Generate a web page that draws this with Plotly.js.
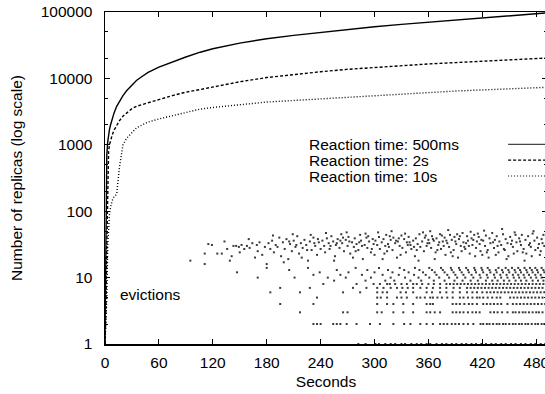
<!DOCTYPE html>
<html>
<head>
<meta charset="utf-8">
<script src="https://cdn.plot.ly/plotly-3.0.1.min.js"></script>
<style>
html,body{margin:0;padding:0;background:#fff;overflow:hidden;}
#chart{width:560px;height:394px;}
</style>
</head>
<body>
<div id="chart"></div>
<script>
// ---- data ----
const seriesNames = ["Reaction time: 500ms", "Reaction time: 2s", "Reaction time: 10s"];
const lineT = [0, 1, 2, 3, 4, 5, 6, 8, 10, 13, 16, 20, 24, 30, 35, 40, 48, 60, 75, 90, 106, 120, 150, 180, 210, 240, 270, 300, 330, 360, 390, 420, 450, 480, 492];
const react500ms = [1, 20, 700, 1100, 1450, 1700, 1950, 2500, 3000, 3800, 4500, 5500, 6500, 8000, 9300, 10400, 12300, 14800, 17700, 21000, 24800, 28000, 34000, 39500, 44500, 49500, 55000, 60000, 65000, 70000, 75500, 81000, 87000, 94000, 97000];
const react2s = [1, 3, 30, 400, 800, 1000, 1150, 1400, 1650, 2000, 2300, 2700, 3000, 3500, 3800, 4000, 4350, 4800, 5500, 6200, 6800, 7400, 8900, 10300, 11500, 12600, 13700, 14700, 15600, 16500, 17300, 18200, 19000, 19900, 20300];
const react10s = [1, 2, 5, 30, 70, 90, 110, 145, 165, 180, 450, 1000, 1250, 1550, 1800, 1950, 2200, 2450, 2750, 3100, 3450, 3650, 4050, 4400, 4650, 4900, 5200, 5500, 5850, 6200, 6450, 6700, 6950, 7250, 7350];

// evictions: times for integer counts 1..14
const evict1 = [282, 290, 301, 305, 312, 318, 323, 330, 334, 341, 347, 352, 358, 362, 369, 375, 380, 386, 391, 397, 402, 408, 413, 419, 424, 430, 435, 441, 446, 452, 457, 463, 468, 474, 479, 485, 490];
const evict2 = [232, 236, 240, 254, 258, 262, 269, 280, 295, 306, 321, 333, 340, 351, 358, 365, 373, 377, 381, 386, 390, 394, 399, 404, 410, 418, 421, 425, 428, 432, 436, 439, 443, 446, 450, 454, 457, 461, 464, 468, 471, 475, 479, 482, 486, 489];
const evict3 = [217, 265, 270, 303, 308, 321, 332, 343, 358, 362, 367, 373, 387, 391, 395, 399, 404, 409, 413, 417, 429, 433, 437, 442, 448, 454, 457, 461, 465, 468, 472, 476, 480, 483, 487, 491];
const evict4 = [195, 232, 303, 314, 321, 332, 343, 358, 362, 365, 387, 391, 395, 400, 405, 409, 414, 421, 425, 429, 433, 437, 441, 448, 454, 458, 462, 466, 470, 474, 478, 482, 486, 490];
const evict5 = [236, 303, 307, 314, 325, 330, 336, 347, 351, 356, 362, 365, 370, 375, 381, 387, 395, 399, 404, 409, 414, 417, 421, 426, 431, 436, 440, 451, 455, 459, 463, 467, 471, 475, 479, 483, 487, 491];
const evict6 = [184, 217, 265, 284, 303, 309, 314, 329, 335, 343, 358, 364, 373, 380, 387, 395, 403, 409, 414, 420, 425, 429, 433, 437, 441, 445, 449, 453, 457, 461, 465, 469, 473, 477, 481, 485, 489];
const evict7 = [195, 228, 276, 291, 303, 310, 318, 325, 331, 337, 343, 351, 358, 365, 373, 380, 388, 395, 403, 407, 411, 415, 419, 423, 427, 431, 435, 439, 443, 447, 451, 455, 459, 463, 467, 471, 475, 479, 483, 487, 491];
const evict8 = [243, 280, 299, 306, 314, 317, 323, 330, 336, 343, 347, 353, 360, 366, 373, 380, 384, 388, 392, 396, 400, 404, 408, 412, 416, 420, 424, 428, 432, 436, 440, 444, 448, 452, 456, 460, 464, 468, 472, 476, 480, 484, 488];
const evict9 = [255, 290, 312, 322, 340, 352, 366, 378, 389, 398, 407, 415, 424, 431, 437, 444, 450, 457, 463, 469, 476, 482, 488];
const evict10 = [170, 211, 248, 268, 296, 318, 334, 349, 361, 372, 383, 392, 401, 410, 418, 426, 434, 441, 448, 455, 461, 467, 474, 480, 486];
const evict11 = [232, 262, 286, 309, 327, 344, 357, 369, 381, 390, 399, 408, 417, 425, 433, 440, 447, 454, 460, 466, 472, 479, 485, 491];
const evict12 = [147, 239, 271, 300, 320, 338, 354, 367, 378, 388, 397, 405, 413, 421, 429, 436, 443, 450, 457, 463, 470, 476, 482, 489];
const evict13 = [205, 258, 292, 315, 333, 350, 364, 376, 386, 395, 404, 412, 420, 428, 435, 442, 449, 456, 462, 469, 475, 481, 488];
const evict14 = [180, 226, 279, 305, 328, 345, 361, 374, 385, 394, 402, 411, 419, 426, 438, 446, 453, 460, 467, 473, 479, 486];

// evictions: upper cloud (time, count)
const cloudT = [95,111,111,115,119,125,130,136,141,143,146,149,152,155,158,161,164,167,170,172,175,178,180,133,139,150,160,169,
182,184,186,188,190,192,194,196,198,200,202,204,206,208,210,212,214,216,218,220,222,224,226,228,230,232,234,236,238,240,187,199,209,219,229,237,213,225,205,233,
242,244,245,247,249,250,252,254,256,257,259,261,263,264,266,268,270,271,273,275,277,278,280,282,284,285,287,289,291,292,294,296,298,299,246,255,262,269,276,283,290,297,251,258,265,272,279,286,293,300,
301,303,305,306,308,310,311,313,315,316,318,320,321,323,325,326,328,330,331,333,335,336,338,340,341,343,345,346,348,350,351,353,355,356,358,360,304,309,314,319,324,329,334,339,344,349,354,359,312,317,327,337,347,357,
361,363,364,366,368,369,371,373,374,376,378,379,381,383,384,386,388,389,391,393,394,396,398,399,401,403,404,406,408,409,411,413,414,416,418,419,362,367,372,377,382,387,392,397,402,407,412,417,365,370,375,380,385,390,395,400,405,410,415,420,
421,423,424,426,428,429,431,433,434,436,438,439,441,443,444,446,448,449,451,453,454,456,458,459,461,463,464,466,468,469,471,473,474,476,478,479,481,483,484,486,488,489,422,427,432,437,442,447,452,457,462,467,472,477,482,487,425,435,445,455,465,475,485];
const cloudN = [18,23,16,32,31,23,23,27,21,30,30,29,31,27,30,28,33,20,25,34,22,29,16,35,18,24,38,31,
33,27,36,24,31,29,40,21,34,27,38,19,32,25,36,29,42,23,33,28,37,31,18,35,26,40,30,22,34,27,43,17,45,20,44,38,31,26,35,33,
36,30,24,39,33,27,42,35,21,31,38,28,45,33,25,37,30,41,23,34,29,39,32,26,44,36,19,31,40,28,35,24,38,32,47,18,36,48,20,34,46,27,30,33,40,35,25,30,42,22,
36,31,41,27,34,38,23,44,32,29,37,26,40,33,20,35,30,43,28,38,24,34,41,31,27,36,21,39,32,45,29,35,25,40,30,37,48,19,25,50,36,22,46,34,29,18,48,33,30,42,39,31,26,43,
33,28,42,36,24,39,31,45,27,35,40,22,33,29,44,37,26,41,32,20,38,30,47,34,27,42,36,23,39,31,44,28,35,41,25,37,50,19,34,30,52,21,45,25,33,49,21,32,38,26,43,36,24,35,42,29,30,37,46,22,
36,30,43,26,39,33,47,28,37,42,24,35,31,45,27,38,33,21,41,36,29,48,34,25,39,31,44,27,37,23,42,33,29,46,36,26,40,32,22,38,44,30,51,20,34,30,54,19,32,44,35,18,31,50,28,33,24,22,26,23,24,21,25];

// ---- assemble eviction points from the arrays above ----
const rowLists = [evict1, evict2, evict3, evict4, evict5, evict6, evict7, evict8, evict9, evict10, evict11, evict12, evict13, evict14];
const evT = [], evN = [];
rowLists.forEach((arr, i) => arr.forEach(t => { evT.push(t); evN.push(i + 1); }));
cloudT.forEach((t, i) => { evT.push(t); evN.push(cloudN[i]); });

const FONT = "Liberation Sans, Arial, Helvetica, sans-serif";
const dashes = ["solid", "3px,2px", "1px,2px"];
const values = [react500ms, react2s, react10s];

const traces = values.map((v, i) => ({
  type: "scatter", mode: "lines", x: lineT, y: v, name: seriesNames[i],
  line: {color: "#000", width: 1.4, dash: dashes[i]}, showlegend: false, hoverinfo: "skip"
}));
traces.push({
  type: "scatter", mode: "markers", x: evT, y: evN, name: "evictions",
  marker: {symbol: "square", size: 2, color: "#3a3a3a", line: {width: 0}},
  showlegend: false, cliponaxis: true, hoverinfo: "skip"
});

const yTicks = [1, 10, 100, 1000, 10000, 100000];
const yMinor = [2, 5, 20, 50, 200, 500, 2000, 5000, 20000, 50000];
const xTicks = [0, 60, 120, 180, 240, 300, 360, 420, 480];

// custom key (text left, sample on the right, like gnuplot)
const keyY = [0.6015, 0.554, 0.506];
const annotations = seriesNames.map((s, i) => ({
  xref: "paper", yref: "paper", x: 0.457, y: keyY[i], xanchor: "left", yanchor: "middle",
  text: s, showarrow: false, font: {family: FONT, size: 15.5, color: "#000"}
}));
annotations.push({
  xref: "paper", yref: "paper", x: 0.029, y: 0.15, xanchor: "left", yanchor: "middle",
  text: "evictions", showarrow: false, font: {family: FONT, size: 15.5, color: "#000"}
});
const shapes = seriesNames.map((s, i) => ({
  type: "line", xref: "paper", yref: "paper", x0: 0.912, x1: 1.02, y0: keyY[i], y1: keyY[i],
  line: {color: i === 0 ? "#444" : "#000", width: 1.2, dash: dashes[i]}
}));

const layout = {
  width: 560, height: 394,
  margin: {l: 105, r: 13, t: 12, b: 50},
  paper_bgcolor: "#fff", plot_bgcolor: "#fff",
  font: {family: FONT, size: 15.5, color: "#000"},
  showlegend: false,
  xaxis: {
    range: [0, 492], tickvals: xTicks, ticktext: xTicks.map(String),
    ticks: "inside", ticklen: 5, tickwidth: 1, tickcolor: "#000",
    showline: true, linecolor: "#000", linewidth: 1.5, mirror: "ticks",
    showgrid: false, zeroline: false, ticklabelstandoff: 4,
    tickfont: {family: FONT, size: 15.5, color: "#000"},
    title: {text: "Seconds", font: {family: FONT, size: 15.5, color: "#000"}, standoff: 6}
  },
  yaxis: {
    type: "log", range: [0, 5], tickvals: yTicks, ticktext: yTicks.map(String),
    ticks: "inside", ticklen: 5, tickwidth: 1, tickcolor: "#000",
    minor: {tickvals: yMinor, ticks: "inside", ticklen: 3, tickcolor: "#000", showgrid: false},
    showline: true, linecolor: "#000", linewidth: 1.5, mirror: "ticks",
    showgrid: false, zeroline: false, ticklabelstandoff: 8,
    tickfont: {family: FONT, size: 15.5, color: "#000"},
    title: {text: "Number of replicas (log scale)", font: {family: FONT, size: 15.5, color: "#000"}, standoff: 14}
  },
  annotations: annotations,
  shapes: shapes
};

Plotly.newPlot("chart", traces, layout, {displayModeBar: false, staticPlot: true});
</script>
</body>
</html>
